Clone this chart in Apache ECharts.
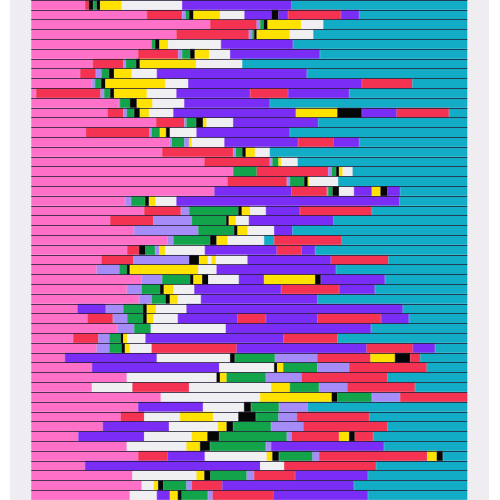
<!DOCTYPE html>
<html><head><meta charset="utf-8">
<script src="https://cdn.jsdelivr.net/npm/echarts@6/dist/echarts.min.js"></script>
<style>html,body{margin:0;padding:0;background:#fff;width:500px;height:500px;overflow:hidden}
#c{position:absolute;left:10px;top:0;width:479px;height:500px}</style>
</head><body><div id="c"></div>
<script>
// state codes and their colours
const stateCodes = ['P','R','L','G','K','Y','W','V','C'];
const stateNames = ['pink','red','lavender','green','black','yellow','white','violet','cyan'];
const stateColors = ['#ff70c8','#f43352','#a58cf8','#13a34a','#060606','#ffe200','#f0eff2','#7a2ef5','#12acc6'];

// one sequence per row (top to bottom): states in order
const rowStates = [
'PRKGKYWVC','PRLGKYWVKVRVC','PRLGKYWC','PRLGKYWC','PGKYWVC','PRLGKYWVC','PRLGKYWC','PRLGKYWVC','PLGKYWVRC','PRLGKYWVRVC',
'PLGKYWVC','PRLGKYWVYKVRC','PRLGKYWVC','PRLGYKWVC','PLGLYWVRVC','PRLGKYWC','PRLGYWC','PGRLGKYWC','PRLGKYWC','PVRLGKWVYKVC',
'PLGKYWVC','PRLGKYWVRC','PRLGKYWVC','PLGKYWVC','PLGKYWCRC','PRKGLYWVRVC','PRLKYWYWVRC','PLGKYWVC','PLGKYKWVYKVC','PLGKYWVRVC',
'PLGKYWVC','PVLGKYWVC','PRLGKYWVRVRVC','PLGWVC','PRLGKYWVRC','PLGKYWRVRVC','PVWKGLRYKRC','PVWKYGLRC','PWKYGLRC','PWRWYGLRC',
'PWYKGLR','PVWKGLC','PRWYWKGLRC','PVWYKGLRC','PVWYKGLRYKRC','PWYKGLVC','PRVWYKGLRYKC','PVWRC','PWYKGLRVC','PWYKGLRVC',
'PWVYKGLRVC'
];
// end time (% of the time span) of each state spell
const rowEnds = [
[12.3,13.2,14.2,15.0,15.8,20.7,34.6,59.7,100],
[26.5,34.6,35.4,36.2,37.2,43.3,48.9,55.1,56.7,58.9,71.0,75.2,100],
[41.0,51.7,52.5,53.3,54.2,61.9,67.0,100],
[33.3,49.9,50.7,51.1,51.7,59.3,64.7,100],
[27.6,28.4,29.4,31.4,43.5,60.0,100],
[24.5,33.7,34.6,36.4,37.5,40.8,45.6,66.2,100],
[14.1,21.1,21.7,24.0,24.9,37.8,48.4,100],
[11.2,14.8,16.1,17.8,19.0,23.0,28.8,63.2,100],
[13.9,14.6,16.0,17.0,30.7,36.0,75.8,87.4,100],
[1.1,15.9,16.7,18.1,19.0,26.5,33.3,50.2,58.9,72.9,100],
[20.1,20.3,22.6,24.2,27.8,35.1,54.7,100],
[17.5,21.1,21.9,23.6,24.9,27.0,32.6,60.7,70.2,75.8,83.8,95.8,100],
[28.6,35.1,35.6,37.8,39.4,40.2,46.3,65.8,100],
[12.5,27.1,27.6,29.5,30.9,31.8,37.9,59.3,100],
[31.7,32.2,35.1,36.2,36.8,44.3,61.2,69.3,75.2,100],
[30.0,46.3,46.9,48.4,49.2,51.3,54.7,100],
[39.7,54.7,55.3,56.7,57.3,61.1,100],
[46.3,51.7,68.1,68.9,69.9,70.6,71.4,73.7,100],
[45.0,58.6,59.3,62.6,63.4,63.7,70.4,100],
[42.0,59.7,67.8,68.1,69.1,70.6,74.0,78.1,80.1,81.7,84.6,100],
[21.5,22.9,26.1,27.0,28.5,33.3,84.4,100],
[25.9,34.3,36.2,47.5,48.3,50.2,53.8,61.6,78.1,100],
[18.1,28.0,36.8,44.7,45.3,46.9,49.9,69.3,100],
[23.6,38.3,46.5,47.3,49.6,55.7,59.9,100],
[31.2,32.6,41.0,42.5,45.0,53.4,55.7,71.2,100],
[22.0,24.7,26.2,28.4,29.4,30.7,39.8,56.3,62.0,65.1,100],
[16.1,23.4,36.2,38.5,40.5,41.4,42.3,49.6,68.7,81.9,100],
[15.0,20.2,21.9,22.6,38.3,42.5,69.9,100],
[25.3,30.0,36.4,37.2,39.2,40.6,47.6,53.4,65.1,66.4,81.1,100],
[21.9,25.3,29.5,30.4,32.6,37.4,57.3,70.6,78.8,100],
[24.7,27.6,30.8,31.8,33.6,38.9,65.6,100],
[10.6,17.1,21.1,25.6,26.5,28.6,35.6,85.2,100],
[12.9,18.7,22.0,25.6,26.5,28.0,33.6,47.3,53.8,65.6,80.2,86.6,100],
[19.7,23.6,27.4,44.6,77.9,100],
[9.6,15.4,17.9,20.5,21.1,22.0,26.2,57.8,70.2,100],
[15.0,17.9,20.7,21.5,22.6,27.6,47.1,76.9,87.5,92.6,100],
[7.7,28.8,45.6,46.7,55.9,65.6,77.8,83.4,86.9,89.2,100],
[13.9,43.1,55.7,56.4,57.8,65.6,72.9,90.7,100],
[21.9,42.5,43.3,44.8,53.8,62.0,81.7,100],
[13.9,23.2,36.2,55.0,59.3,66.0,72.5,88.0,100],
[29.7,52.5,68.9,70.2,78.1,84.6,100],
[24.5,39.4,48.8,50.4,56.8,63.4,100],
[20.5,25.9,34.1,41.7,47.5,51.5,56.7,60.9,77.5,100],
[16.4,31.6,42.8,44.8,46.3,55.0,62.4,81.7,100],
[10.8,25.9,36.8,40.4,43.1,58.6,59.7,70.6,72.9,74.2,78.4,100],
[21.9,35.6,38.7,41.0,53.8,55.0,80.9,100],
[24.5,31.3,39.8,54.0,55.3,56.8,64.5,66.0,90.8,93.0,94.4,100],
[12.3,52.5,58.0,79.1,100],
[23.2,37.9,39.7,41.1,49.4,51.1,60.5,77.2,100],
[25.3,28.1,29.1,30.3,35.6,36.8,43.8,74.0,100],
[22.6,28.8,31.8,33.6,34.5,40.5,41.6,55.5,77.2,100]
];
const rowLabels = rowStates.map((s, i) => 'seq ' + (i + 1));

const chart = echarts.init(document.getElementById('c'), null, {renderer: 'canvas'});
const colorOf = {};
stateCodes.forEach((s, i) => { colorOf[s] = stateColors[i]; });
const maxSeg = Math.max(...rowStates.map(s => s.length));
const series = [];
for (let k = 0; k < maxSeg; k++) {
  series.push({
    type: 'bar', stack: 'seq', barCategoryGap: '0%', silent: true,
    data: rowStates.map((s, i) => {
      if (k >= s.length) return '-';
      const start = k === 0 ? 0 : rowEnds[i][k - 1];
      const c = colorOf[s[k]];
      return {value: +(rowEnds[i][k] - start).toFixed(2), itemStyle: {color: c, borderColor: c, borderWidth: 0.6}};
    })
  });
}
chart.setOption({
  backgroundColor: '#efedf1',
  animation: false,
  grid: {left: 21.3, width: 436, top: -2.6, height: 503.9},
  xAxis: {type: 'value', min: 0, max: 100, show: false},
  yAxis: {type: 'category', data: rowLabels, inverse: true, z: 10,
    axisLine: {show: false}, axisTick: {show: false}, axisLabel: {show: false},
    splitLine: {show: true, interval: 0, lineStyle: {color: 'rgba(25,20,45,0.75)', width: 1}}},
  series: series
});
</script></body></html>
